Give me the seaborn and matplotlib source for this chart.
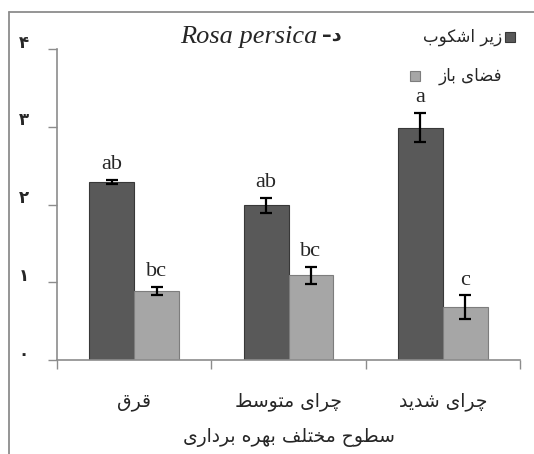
import matplotlib
matplotlib.use("Agg")
import matplotlib.pyplot as plt
import matplotlib.transforms as mtransforms
from matplotlib.lines import Line2D
from matplotlib.patches import Rectangle
import pandas as pd
import seaborn as sns

# ---------------------------------------------------------
# Data
# ---------------------------------------------------------
categories = ["قرق", "چرای متوسط", "چرای شدید"]
series_names = ["زیر اشکوب", "فضای باز"]
under_canopy = [2.29, 1.99, 2.99]
open_space = [0.89, 1.09, 0.68]
under_err = [0.03, 0.10, 0.19]
open_err = [0.05, 0.11, 0.15]
under_letters = ["ab", "ab", "a"]
open_letters = ["bc", "bc", "c"]
ytick_labels = ["۰", "۱", "۲", "۳", "۴"]
x_label = "سطوح مختلف بهره برداری"
title_latin = "Rosa persica"
title_persian = "د–"

colors = ["#595959", "#a6a6a6"]
edge_colors = ["#383838", "#7d7d7d"]

# ---------------------------------------------------------
# Minimal Persian shaping (matplotlib does not join letters)
# isolated, final, initial, medial
# ---------------------------------------------------------
FORMS = {
    "ا": ("\uFE8D", "\uFE8E", None, None),
    "ب": ("\uFE8F", "\uFE90", "\uFE91", "\uFE92"),
    "ت": ("\uFE95", "\uFE96", "\uFE97", "\uFE98"),
    "ح": ("\uFEA1", "\uFEA2", "\uFEA3", "\uFEA4"),
    "خ": ("\uFEA5", "\uFEA6", "\uFEA7", "\uFEA8"),
    "د": ("\uFEA9", "\uFEAA", None, None),
    "ر": ("\uFEAD", "\uFEAE", None, None),
    "ز": ("\uFEAF", "\uFEB0", None, None),
    "س": ("\uFEB1", "\uFEB2", "\uFEB3", "\uFEB4"),
    "ش": ("\uFEB5", "\uFEB6", "\uFEB7", "\uFEB8"),
    "ض": ("\uFEBD", "\uFEBE", "\uFEBF", "\uFEC0"),
    "ط": ("\uFEC1", "\uFEC2", "\uFEC3", "\uFEC4"),
    "ف": ("\uFED1", "\uFED2", "\uFED3", "\uFED4"),
    "ق": ("\uFED5", "\uFED6", "\uFED7", "\uFED8"),
    "ل": ("\uFEDD", "\uFEDE", "\uFEDF", "\uFEE0"),
    "م": ("\uFEE1", "\uFEE2", "\uFEE3", "\uFEE4"),
    "ه": ("\uFEE9", "\uFEEA", "\uFEEB", "\uFEEC"),
    "و": ("\uFEED", "\uFEEE", None, None),
    "ی": ("\uFBFC", "\uFBFD", "\uFBFE", "\uFBFF"),
    "ک": ("\uFB8E", "\uFB8F", "\uFB90", "\uFB91"),
    "چ": ("\uFB7A", "\uFB7B", "\uFB7C", "\uFB7D"),
}


def fa(text):
    out = []
    for i, c in enumerate(text):
        if c not in FORMS:
            out.append(c)
            continue
        f = FORMS[c]
        prev = text[i - 1] if i > 0 else None
        nxt = text[i + 1] if i + 1 < len(text) else None
        join_prev = prev in FORMS and FORMS[prev][2] is not None
        join_next = nxt in FORMS and f[2] is not None
        if join_prev and join_next:
            out.append(f[3])
        elif join_prev:
            out.append(f[1])
        elif join_next:
            out.append(f[2])
        else:
            out.append(f[0])
    return "".join(reversed(out))


sns.set_theme(style="white")
plt.rcParams["font.family"] = ["DejaVu Sans"]

df = pd.DataFrame({
    "level": categories * 2,
    "value": under_canopy + open_space,
    "series": [series_names[0]] * 3 + [series_names[1]] * 3,
})

W, H = 534, 454
fig = plt.figure(figsize=(W / 100, H / 100), dpi=100)
ax = fig.add_axes([57 / W, (H - 360) / H, (520 - 57) / W, (360 - 49) / H])

sns.barplot(data=df, x="level", y="value", hue="series", order=categories,
            hue_order=series_names, palette=colors, width=0.58,
            errorbar=None, legend=False, ax=ax)

errs = [under_err, open_err]
letters = [under_letters, open_letters]
bar_containers = list(ax.containers)
for k, cont in enumerate(bar_containers):
    xs = [b.get_x() + b.get_width() / 2 for b in cont.patches]
    hs = [b.get_height() for b in cont.patches]
    for b in cont.patches:
        b.set_edgecolor(edge_colors[k])
        b.set_linewidth(0.8)
    ax.errorbar(xs, hs, yerr=errs[k], fmt="none", ecolor="black",
                elinewidth=1.6, capsize=4.5, capthick=1.6, zorder=5)
    for x, h, e, t in zip(xs, hs, errs[k], letters[k]):
        ax.annotate(t, (x, h + e), xytext=(0, 4), textcoords="offset points",
                    ha="center", va="bottom", fontsize=16,
                    family="Liberation Serif", zorder=6)

ax.set_xlim(-0.5, 2.5)
ax.set_ylim(0, 4)
ax.set_yticks(range(5))
ax.set_yticklabels(ytick_labels, fontsize=12, fontweight="bold")
ax.tick_params(axis="y", left=True, length=6.5, width=1, color="#8c8c8c", pad=14)
offset = mtransforms.ScaledTranslation(0, 6 / 72, fig.dpi_scale_trans)
for lab in ax.get_yticklabels():
    lab.set_transform(lab.get_transform() + offset)

ax.set_xticks(range(3))
ax.set_xticklabels([fa(c) for c in categories], fontsize=13.5)
ax.set_xticks([-0.5, 0.5, 1.5, 2.5], minor=True)
ax.tick_params(axis="x", which="major", bottom=False, length=0, pad=23)
ax.tick_params(axis="x", which="minor", bottom=True, length=6.5, width=1,
               color="#8c8c8c")
ax.set_xlabel(fa(x_label), fontsize=13.5, labelpad=12)
ax.set_ylabel("")

for s in ["top", "right"]:
    ax.spines[s].set_visible(False)
for s in ["left", "bottom"]:
    ax.spines[s].set_color("#8c8c8c")
    ax.spines[s].set_linewidth(1.2)

# title
fig.text(318 / W, 1 - 37 / H, title_latin, ha="right", va="center",
         fontsize=19, style="italic", family="Liberation Serif")
fig.text(322 / W, 1 - 35 / H, fa(title_persian), ha="left", va="center",
         fontsize=14, fontweight="bold")

# legend (drawn right-to-left as in the reference)
fig.text(502 / W, 1 - 37 / H, fa(series_names[0]), ha="right", va="center",
         fontsize=12)
fig.add_artist(Rectangle((505 / W, 1 - 42 / H), 10 / W, 10 / H,
                         transform=fig.transFigure, facecolor=colors[0],
                         edgecolor=edge_colors[0], lw=0.8))
fig.text(502 / W, 1 - 76 / H, fa(series_names[1]), ha="right", va="center",
         fontsize=12)
fig.add_artist(Rectangle((410 / W, 1 - 81 / H), 10 / W, 10 / H,
                         transform=fig.transFigure, facecolor=colors[1],
                         edgecolor=edge_colors[1], lw=0.8))

# outer frame
fig.add_artist(Line2D([9 / W, 9 / W], [0, 1 - 12 / H], transform=fig.transFigure,
                      color="#8c8c8c", lw=1.3))
fig.add_artist(Line2D([9 / W, 1], [1 - 12 / H, 1 - 12 / H], transform=fig.transFigure,
                      color="#8c8c8c", lw=1.3))

fig.savefig("out.png", dpi=100)
